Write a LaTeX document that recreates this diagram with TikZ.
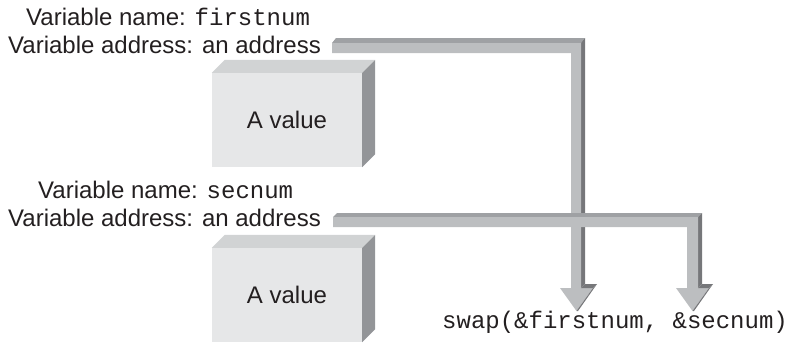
\documentclass[tikz,border=0pt]{standalone}
\usepackage{fontspec}
\setmainfont{Liberation Sans}
\setmonofont{Liberation Mono}
\definecolor{ink}{HTML}{231F20}
\definecolor{barfront}{HTML}{BCBEC0}
\definecolor{bartop}{HTML}{9FA1A4}
\definecolor{barside}{HTML}{76777A}
\definecolor{boxfront}{HTML}{E6E7E8}
\definecolor{boxtop}{HTML}{D1D3D4}
\definecolor{boxside}{HTML}{939598}
\begin{document}
\begin{tikzpicture}[x=1pt,y=-1pt,
  lbl/.style={anchor=base west,inner sep=0pt,text=ink,font=\fontsize{24}{28}\selectfont},
  valbox/.style={fill=boxfront,draw=none,minimum width=150pt,minimum height=94pt,inner sep=0pt,text=ink,font=\fontsize{24}{28}\selectfont},
  boxtopface/.style={fill=boxtop,draw=none},
  boxsideface/.style={fill=boxside,draw=none},
  barf/.style={fill=barfront,draw=none},
  bart/.style={fill=bartop,draw=none},
  bars/.style={fill=barside,draw=none}]
\useasboundingbox (0,0) rectangle (789,343);

% labels
\node[lbl] (name1) at (26,25) {Variable name: \texttt{firstnum}};
\node[lbl] (addr1) at (8,53) {Variable address: an address};
\node[lbl] (name2) at (38,198) {Variable name: \texttt{secnum}};
\node[lbl] (addr2) at (8,226) {Variable address: an address};
\node[lbl] (call) at (442,328) {\texttt{swap(\&firstnum, \&secnum)}};

% value boxes
\node[valbox] (val1) at (287,120) {A value};
\fill[boxtopface] (val1.north west) -- ++(13,-13) -- ([shift={(13,-13)}]val1.north east) -- (val1.north east) -- cycle;
\fill[boxsideface] (val1.north east) -- ++(13,-13) -- ([shift={(13,-13)}]val1.south east) -- (val1.south east) -- cycle;
\node[valbox] (val2) at (287,295) {A value};
\fill[boxtopface] (val2.north west) -- ++(13,-13) -- ([shift={(13,-13)}]val2.north east) -- (val2.north east) -- cycle;
\fill[boxsideface] (val2.north east) -- ++(13,-13) -- ([shift={(13,-13)}]val2.south east) -- (val2.south east) -- cycle;

% bar 1 : from firstnum address to swap call
\coordinate (a1) at (332,43);
\coordinate (c1) at (581,43);
\coordinate (h1) at (576.5,288);
\fill[bart] (a1) -- ++(4,-5) -- ([shift={(4,-5)}]c1) -- (c1) -- cycle;
\fill[bars] (c1) -- ++(4,-5) -- (585,284) -- (581,288) -- cycle;
\fill[barf] (a1) -- (c1) -- (581,288) -- (571,288) -- (571,53) -- (332,53) -- cycle;
\fill[barf] (560,288) -- (593,288) -- (576.5,311) -- cycle;
\fill[bars] (581,288) -- (585,284) -- (597,284) -- (593,288) -- cycle;
\fill[bars] (593,288) -- (597,284) -- (578,311) -- (576.5,311) -- cycle;

% bar 2 : from secnum address to swap call
\coordinate (a2) at (333,217);
\coordinate (c2) at (698,217);
\fill[bart] (a2) -- ++(4,-4) -- ([shift={(4,-4)}]c2) -- (c2) -- cycle;
\fill[bars] (c2) -- ++(4,-4) -- (702,284) -- (698,288) -- cycle;
\fill[barf] (a2) -- (c2) -- (698,288) -- (687,288) -- (687,227) -- (333,227) -- cycle;
\fill[barf] (676,288) -- (709,288) -- (692.5,311) -- cycle;
\fill[bars] (698,288) -- (702,284) -- (713,284) -- (709,288) -- cycle;
\fill[bars] (709,288) -- (713,284) -- (694,311) -- (692.5,311) -- cycle;
\end{tikzpicture}
\end{document}
